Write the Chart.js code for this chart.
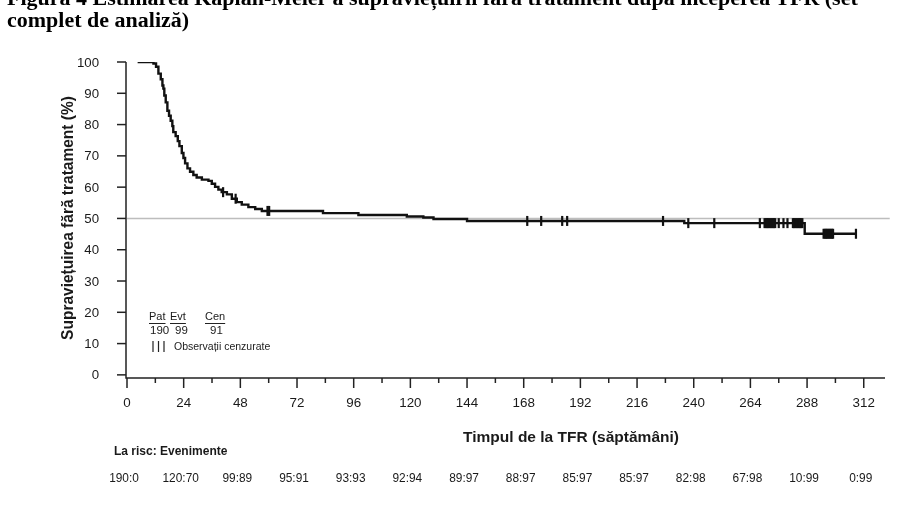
<!DOCTYPE html>
<html>
<head>
<meta charset="utf-8">
<script src="https://cdn.jsdelivr.net/npm/chart.js@4.4.1/dist/chart.umd.min.js"></script>
<style>
  body { margin: 0; background: #fff; overflow: hidden; }
  #wrap { position: relative; width: 919px; height: 510px; overflow: hidden; }
  #title {
    position: absolute; left: 7px; top: -13px;
    font: bold 20px "Liberation Serif", "Times New Roman", serif;
    line-height: 22px; color: #000; white-space: nowrap;
    transform: scaleX(1.1); transform-origin: left top;
  }
  canvas { position: absolute; left: 0; top: 0; }
</style>
</head>
<body>
<div id="wrap">
  <canvas id="kmChart" width="919" height="510"></canvas>
  <div id="title">Figura 4 Estimarea Kaplan-Meier a supraviețuirii fără tratament după începerea TFR (set<br>complet de analiză)</div>
</div>
<script>
// Curba Kaplan-Meier (saptamani, % supravietuire)
const kmWeeks = [4.5, 10.5, 11.2, 12.3, 13.3, 14.3, 15.0, 15.4, 15.8, 16.4, 17.1, 17.8, 18.5, 19.2,
  19.6, 20.6, 21.5, 22.2, 23.2, 23.9, 24.6, 25.6, 26.7, 28.1, 29.5, 31.7, 34.5, 35.9, 37.3, 38.7,
  40.1, 42.3, 44.4, 46.5, 48.6, 51.4, 54.3, 57.1, 83, 98, 118.5, 125.5, 129.8, 144,
  236, 287, 308.7];
const kmSurvival = [100, 100, 99.5, 98.5, 96.3, 94.5, 92.5, 91.5, 89.3, 87.1, 84.4, 82.8, 81.2, 79.5,
  77.6, 76.3, 74.7, 73.1, 70.9, 69.3, 67.6, 66.0, 64.9, 63.9, 63.1, 62.4, 62.0, 61.1, 60.1, 59.2,
  58.4, 57.7, 56.3, 55.2, 54.4, 53.6, 53.0, 52.4, 51.7, 51.1, 50.6, 50.3, 49.8, 49.2,
  48.5, 45.1, 45.1];

// Observatii cenzurate (saptamani); grupurile dense apar ca blocuri negre
const censorWeeks = [40.7, 46.0, 59.5, 60.2, 169.5, 175.4, 184.3, 186.4, 227, 237.7, 248.7,
  268, 270, 270.5, 271, 271.5, 272, 272.5, 273, 273.5, 274, 274.5, 276, 278, 279.7,
  282, 282.5, 283, 283.5, 284, 284.5, 285, 285.5, 286,
  295, 295.5, 296, 296.5, 297, 297.5, 298, 298.5, 299, 308.7];

const refLevel = 50;

const xTickLabels = [0, 24, 48, 72, 96, 120, 144, 168, 192, 216, 240, 264, 288, 312];
const yTickLabels = [0, 10, 20, 30, 40, 50, 60, 70, 80, 90, 100];

// Pacienti la risc : evenimente, la fiecare eticheta de pe axa X
const atRisk = ['190:0', '120:70', '99:89', '95:91', '93:93', '92:94', '89:97', '88:97',
  '85:97', '85:97', '82:98', '67:98', '10:99', '0:99'];

const legendHeads = ['Pat', 'Evt', 'Cen'];
const legendCounts = ['190', '99', '91'];

const SANS = '"Liberation Sans", Arial, sans-serif';
const INK = '#1a1a1a';

// valoarea curbei la momentul t (pentru marcajele de cenzurare)
function survivalAt(t) {
  let v = kmSurvival[0];
  for (let i = 0; i < kmWeeks.length; i++) {
    if (kmWeeks[i] <= t) v = kmSurvival[i];
  }
  return v;
}

function txt(ctx, s, x, y, font, align, sx) {
  ctx.save();
  ctx.translate(x, y);
  ctx.scale(sx || 1, 1);
  ctx.font = font;
  ctx.textAlign = align;
  ctx.textBaseline = 'middle';
  ctx.fillStyle = INK;
  ctx.fillText(s, 0, 0);
  ctx.restore();
}

// Axe, etichete si tabelul "la risc"
const decorPlugin = {
  id: 'decor',
  afterDraw(chart) {
    const ctx = chart.ctx;
    const xs = chart.scales.x;
    const ys = chart.scales.y;
    const area = chart.chartArea;
    const axisX = area.left - 1;
    const axisY = area.bottom;

    ctx.save();
    ctx.strokeStyle = '#222';
    ctx.lineWidth = 1.5;
    ctx.beginPath();
    ctx.moveTo(axisX, ys.getPixelForValue(100));
    ctx.lineTo(axisX, axisY);
    ctx.lineTo(area.right, axisY);
    ctx.stroke();

    // axa Y
    yTickLabels.forEach(v => {
      const py = ys.getPixelForValue(v);
      ctx.beginPath();
      ctx.moveTo(axisX - 9, py);
      ctx.lineTo(axisX, py);
      ctx.stroke();
      txt(ctx, String(v), 99, py + 1, '13px ' + SANS, 'right', 1.02);
    });

    // axa X: diviziuni mari si mici
    xTickLabels.forEach((v, i) => {
      const px = xs.getPixelForValue(v);
      ctx.beginPath();
      ctx.moveTo(px, axisY);
      ctx.lineTo(px, axisY + 10);
      ctx.stroke();
      txt(ctx, String(v), px, axisY + 25, '13px ' + SANS, 'center', 1.03);
      if (i < xTickLabels.length - 1) {
        const pm = xs.getPixelForValue((v + xTickLabels[i + 1]) / 2);
        ctx.beginPath();
        ctx.moveTo(pm, axisY);
        ctx.lineTo(pm, axisY + 5);
        ctx.stroke();
      }
      txt(ctx, atRisk[i], px - 3, 478, '13.5px ' + SANS, 'center', 0.88);
    });

    // titluri axe
    txt(ctx, 'Timpul de la TFR (săptămâni)', 571, 438, 'bold 15.5px ' + SANS, 'center', 1);
    txt(ctx, 'La risc: Evenimente', 114, 452, 'bold 12px ' + SANS, 'left', 1);

    ctx.save();
    ctx.translate(68, 218);
    ctx.rotate(-Math.PI / 2);
    ctx.scale(1, 1.1);
    ctx.font = 'bold 15.5px ' + SANS;
    ctx.textAlign = 'center';
    ctx.textBaseline = 'middle';
    ctx.fillStyle = INK;
    ctx.fillText('Supraviețuirea fără tratament (%)', 0, 0);
    ctx.restore();

    // legenda din grafic
    const headX = [149, 170, 205];
    ctx.lineWidth = 1;
    legendHeads.forEach((h, i) => {
      txt(ctx, h, headX[i], 317, '11px ' + SANS, 'left', 1);
      ctx.font = '11px ' + SANS;
      const w = ctx.measureText(h).width;
      ctx.beginPath();
      ctx.moveTo(headX[i], 323.5);
      ctx.lineTo(headX[i] + w, 323.5);
      ctx.stroke();
    });
    const countX = [150, 175, 210];
    legendCounts.forEach((c, i) => txt(ctx, c, countX[i], 331, '11.5px ' + SANS, 'left', 1));
    ctx.lineWidth = 1.2;
    [153, 158.5, 164].forEach(px => {
      ctx.beginPath();
      ctx.moveTo(px, 341);
      ctx.lineTo(px, 352);
      ctx.stroke();
    });
    txt(ctx, 'Observații cenzurate', 174, 347, '10.5px ' + SANS, 'left', 1);
    ctx.restore();
  }
};

const ctx = document.getElementById('kmChart').getContext('2d');
new Chart(ctx, {
  type: 'line',
  data: {
    datasets: [
      {
        label: 'cenzurate',
        data: censorWeeks.map(t => ({ x: t, y: survivalAt(t) })),
        showLine: false,
        pointStyle: 'line',
        rotation: 90,
        pointRadius: 5,
        pointBorderWidth: 2.2,
        borderColor: '#111',
        backgroundColor: '#111',
        order: 1
      },
      {
        label: 'KM',
        data: kmWeeks.map((t, i) => ({ x: t, y: kmSurvival[i] })),
        stepped: true,
        borderColor: '#111',
        borderWidth: 2.4,
        pointRadius: 0,
        order: 2
      },
      {
        label: 'ref',
        data: [{ x: 0, y: refLevel }, { x: 323, y: refLevel }],
        borderColor: '#bdbdbd',
        borderWidth: 1.5,
        pointRadius: 0,
        clip: false,
        order: 3
      }
    ]
  },
  options: {
    responsive: false,
    animation: false,
    layout: { padding: { left: 127, top: 62, right: 34, bottom: 132 } },
    scales: {
      x: { type: 'linear', min: 0, max: 321, display: false },
      y: { type: 'linear', min: -1, max: 100, display: false }
    },
    plugins: {
      legend: { display: false },
      tooltip: { enabled: false }
    }
  },
  plugins: [decorPlugin]
});
</script>
</body>
</html>
